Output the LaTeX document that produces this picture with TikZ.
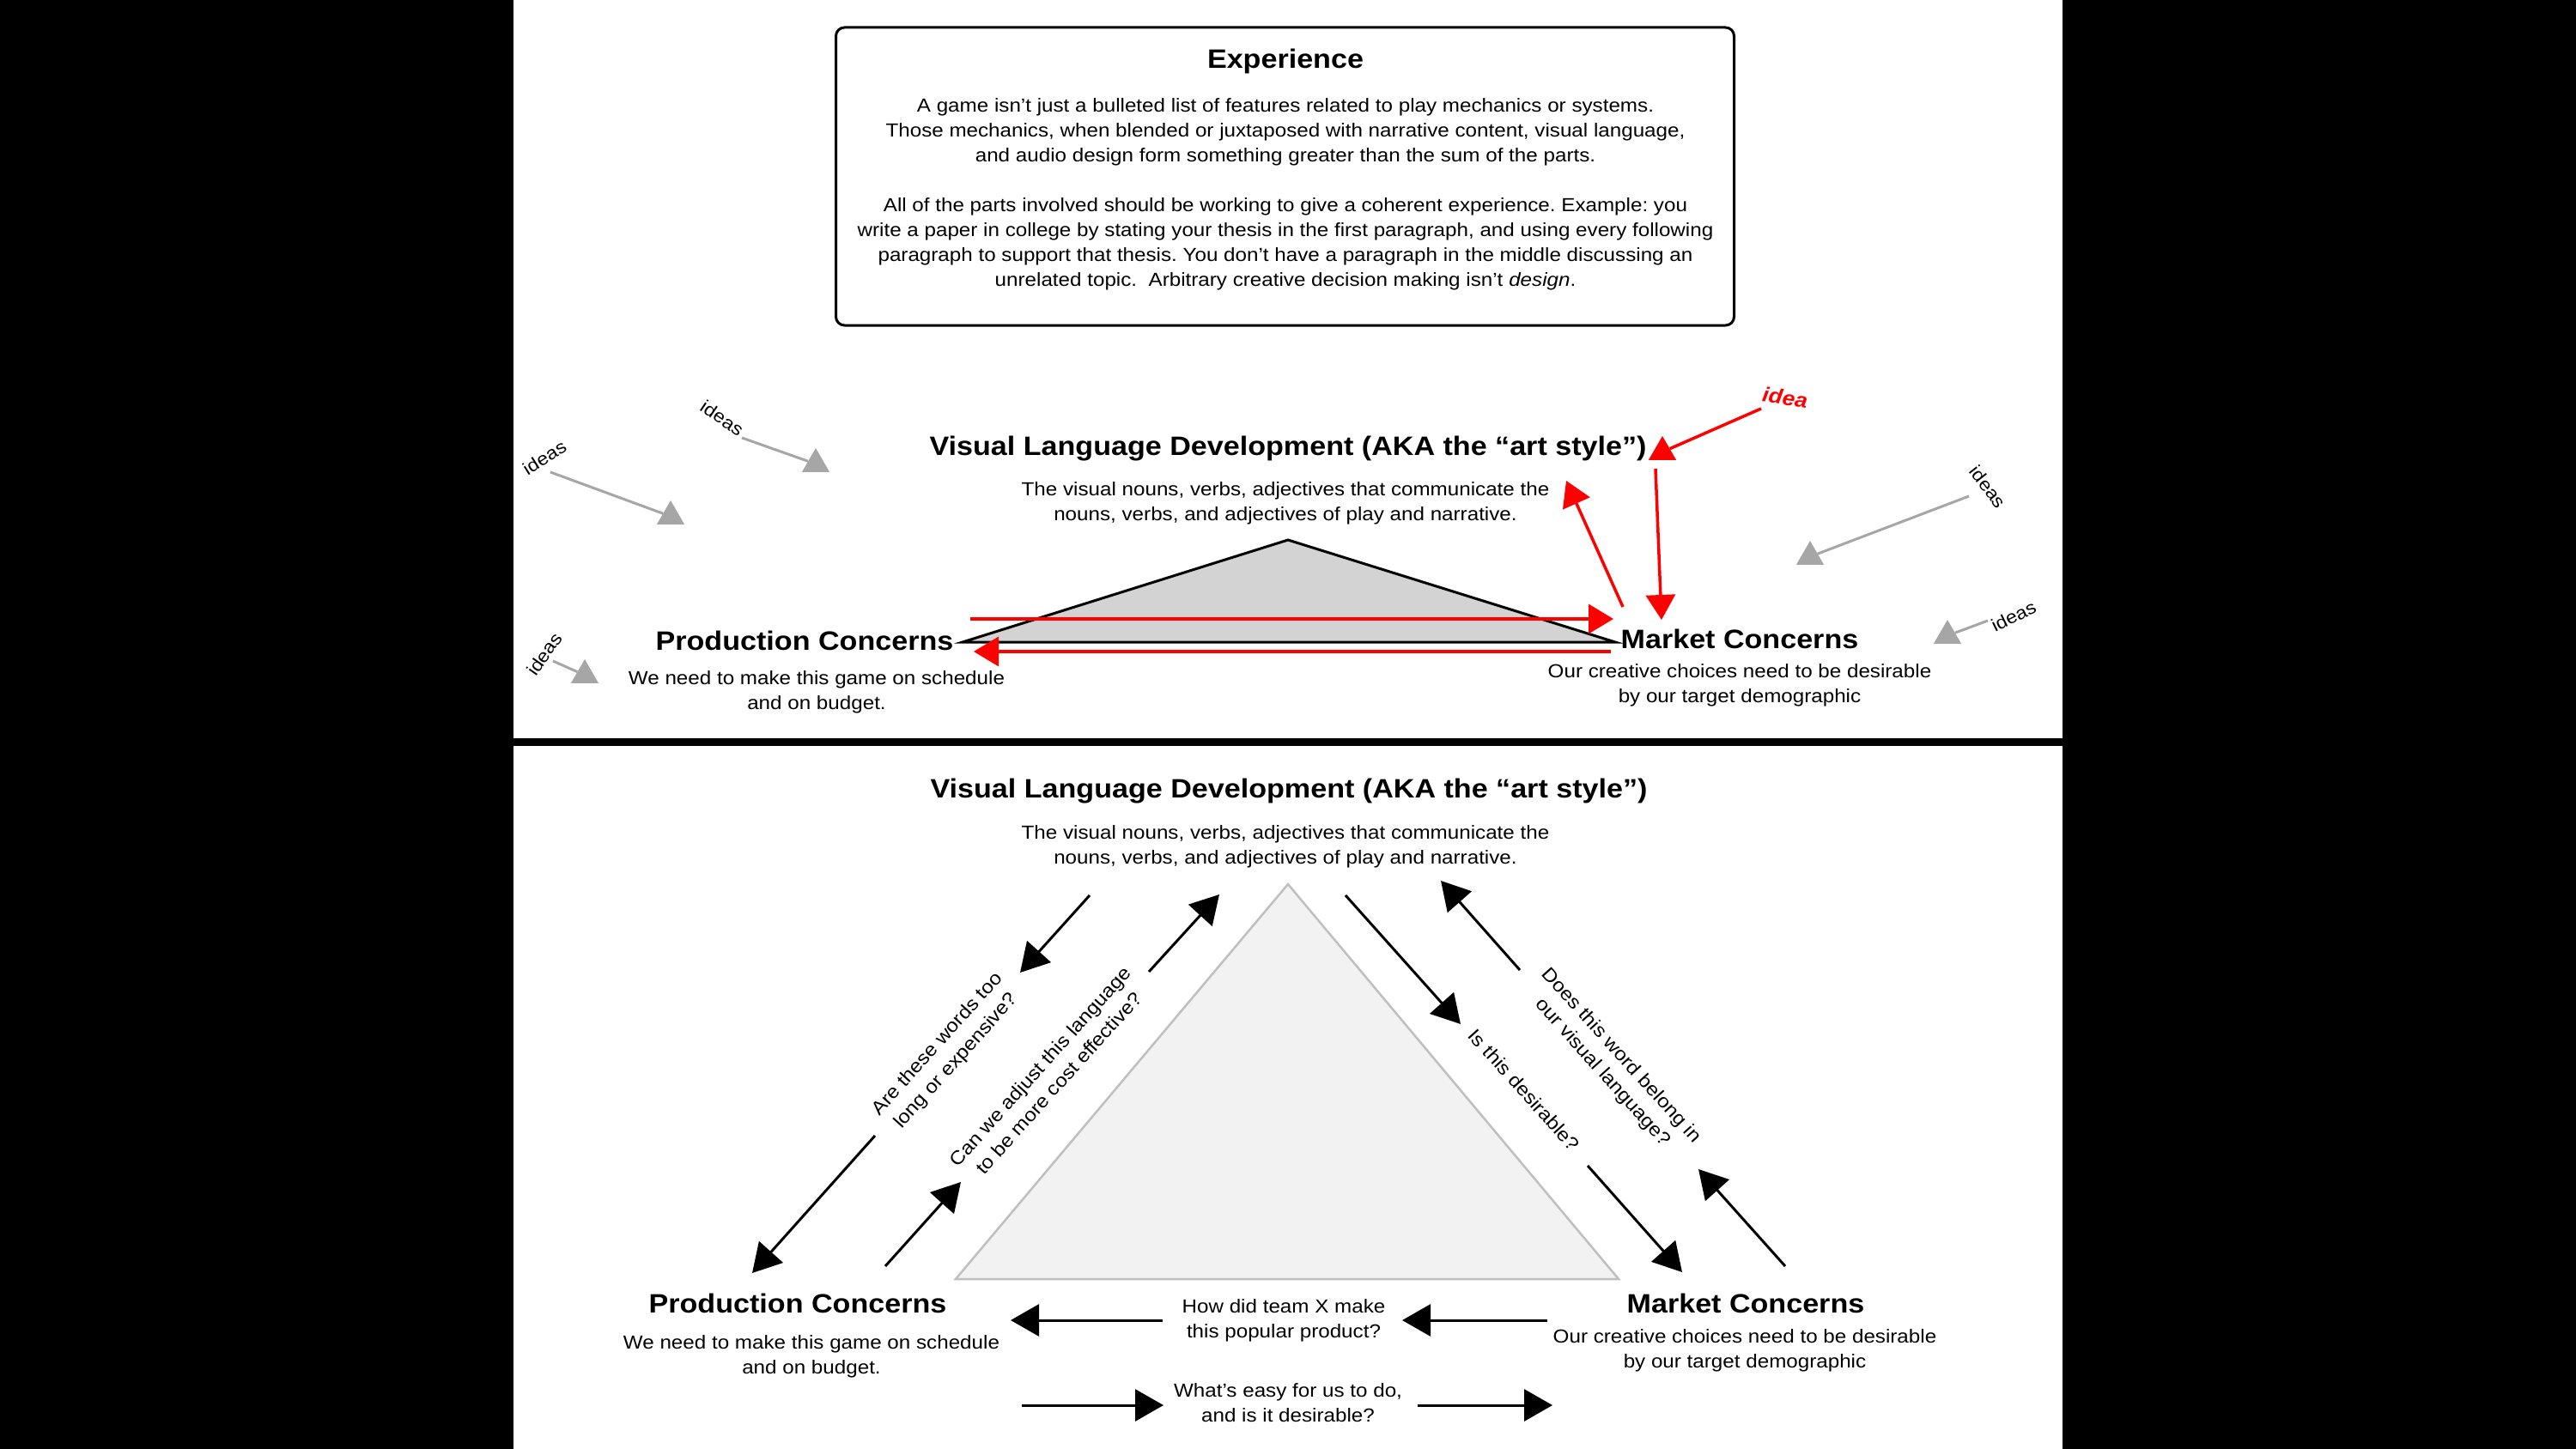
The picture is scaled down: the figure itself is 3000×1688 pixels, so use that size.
\documentclass[tikz,border=0pt]{standalone}
\usepackage{fontspec}
\setmainfont{Liberation Sans}[FakeStretch=1.1]
\usetikzlibrary{arrows.meta,shapes.geometric}
\definecolor{triA}{HTML}{D3D3D3}
\definecolor{triB}{HTML}{F2F2F2}
\definecolor{triBline}{HTML}{BFBFBF}
\definecolor{ideagray}{HTML}{A6A6A6}
\newcommand{\hdfont}{\fontsize{31}{36}\selectfont\bfseries}
\newcommand{\bodyfont}{\fontsize{22}{29}\selectfont}
\newcommand{\ideasfont}{\fontsize{21}{24}\selectfont}
\frenchspacing
\begin{document}
\begin{tikzpicture}[x=1pt,y=-1pt,
  hd/.style={font=\hdfont, inner sep=0pt},
  txt/.style={font=\bodyfont, align=center, inner sep=0pt},
  arr/.style={line width=3pt, -{Triangle[length=33pt,width=37pt]}},
  redarr/.style={red, line width=3.5pt, -{Triangle[length=29pt,width=34pt]}},
  gline/.style={ideagray, line width=3pt},
  gtri/.style={regular polygon, regular polygon sides=3, fill=ideagray, minimum size=37pt, inner sep=0pt},
  ilbl/.style={font=\ideasfont, inner sep=0pt}]

% background and panels
\fill[black] (0,0) rectangle (3000,1688);
\useasboundingbox (0,0) rectangle (3000,1688);
\fill[white] (598,0) rectangle (2402,860);
\fill[white] (598,869) rectangle (2402,1688);

% Experience box
\node[draw, line width=3pt, rounded corners=10pt, minimum width=1046pt, minimum height=347pt, inner sep=0pt] (expbox) at (1496.5,205.5) {};
\node[hd] (exptitle) at (1497,71) {Experience};
\node[txt] (expbody) at (1497,226) {A game isn’t just a bulleted list of features related to play mechanics or systems.\\
Those mechanics, when blended or juxtaposed with narrative content, visual language,\\
and audio design form something greater than the sum of the parts.\\[29pt]
All of the parts involved should be working to give a coherent experience. Example: you\\
write a paper in college by stating your thesis in the first paragraph, and using every following\\
paragraph to support that thesis. You don’t have a paragraph in the middle discussing an\\
unrelated topic.\ \ Arbitrary creative decision making isn’t \textit{design}.};

% ---------- top panel ----------
\node[hd] (vlA) at (1500,523) {Visual Language Development (AKA the “art style”)};
\node[txt] (vlAd) at (1497,586) {The visual nouns, verbs, adjectives that communicate the\\nouns, verbs, and adjectives of play and narrative.};
\node[hd] (pcA) at (937,746) {Production Concerns};
\node[txt] (pcAd) at (951,806) {We need to make this game on schedule\\and on budget.};
\node[hd] (mcA) at (2026,744) {Market Concerns};
\node[txt] (mcAd) at (2026,798) {Our creative choices need to be desirable\\by our target demographic};

\coordinate (tAa) at (1500,629);
\coordinate (tAl) at (1121,748);
\coordinate (tAr) at (1881,748);
\draw[fill=triA, line width=3pt] (tAa) -- (tAl) -- (tAr) -- cycle;

% red arrows
\coordinate (r1s) at (1130,721); \coordinate (r1e) at (1879,721);
\coordinate (r2s) at (1876,759); \coordinate (r2e) at (1134,759);
\coordinate (r3s) at (1890,707); \coordinate (r3e) at (1824,560);
\coordinate (r4s) at (1928,546); \coordinate (r4e) at (1935,722);
\draw[redarr] (r1s) -- (r1e);
\draw[redarr] (r2s) -- (r2e);
\draw[redarr] (r3s) -- (r3e);
\draw[redarr] (r4s) -- (r4e);
\node[font=\fontsize{24}{28}\selectfont\bfseries\itshape, text=red, rotate=-8, inner sep=0pt] (idea) at (2079,463) {idea};
\coordinate (r5s) at (2051,476);
\node[gtri, fill=red] (r5t) at (1936,526.5) {};
\draw[red, line width=3.5pt] (r5s) -- (r5t);

% gray idea arrows
\node[ilbl, rotate=32] (i1) at (634,533) {ideas};
\coordinate (i1s) at (641,550);
\node[gtri] (i1t) at (781,601.5) {};
\draw[gline] (i1s) -- (i1t);

\node[ilbl, rotate=-34] (i2) at (841,487) {ideas};
\coordinate (i2s) at (864,510);
\node[gtri] (i2t) at (950,540.5) {};
\draw[gline] (i2s) -- (i2t);

\node[ilbl, rotate=55] (i3) at (634,762) {ideas};
\coordinate (i3s) at (644,770);
\node[gtri] (i3t) at (681,786.5) {};
\draw[gline] (i3s) -- (i3t);

\node[ilbl, rotate=-52] (i4) at (2315,567) {ideas};
\coordinate (i4s) at (2293,578);
\node[gtri] (i4t) at (2108,648.5) {};
\draw[gline] (i4s) -- (i4t);

\node[ilbl, rotate=26] (i5) at (2345,718) {ideas};
\coordinate (i5s) at (2315,723);
\node[gtri] (i5t) at (2268,740.5) {};
\draw[gline] (i5s) -- (i5t);

% ---------- bottom panel ----------
\node[hd] (vlB) at (1501,922) {Visual Language Development (AKA the “art style”)};
\node[txt] (vlBd) at (1497,986) {The visual nouns, verbs, adjectives that communicate the\\nouns, verbs, and adjectives of play and narrative.};
\node[hd] (pcB) at (929,1518) {Production Concerns};
\node[txt] (pcBd) at (945,1580) {We need to make this game on schedule\\and on budget.};
\node[hd] (mcB) at (2033,1518) {Market Concerns};
\node[txt] (mcBd) at (2032,1573) {Our creative choices need to be desirable\\by our target demographic};

\coordinate (tBa) at (1500,1030);
\coordinate (tBl) at (1113,1490);
\coordinate (tBr) at (1885,1490);
\draw[fill=triB, draw=triBline, line width=2.5pt] (tBa) -- (tBl) -- (tBr) -- cycle;

% left side questions
\node[txt, rotate=48] (qA) at (1103,1226) {Are these words too\\long or expensive?};
\coordinate (a1s) at (1269,1043); \coordinate (a1m) at (1188,1133);
\coordinate (a1n) at (1019,1323); \coordinate (a1e) at (876,1483);
\draw[arr] (a1s) -- (a1m);
\draw[arr] (a1n) -- (a1e);

\node[txt, rotate=48] (qB) at (1222,1252) {Can we adjust this language\\to be more cost effective?};
\coordinate (a2s) at (1031,1475); \coordinate (a2m) at (1119,1377);
\coordinate (a2n) at (1338,1132); \coordinate (a2e) at (1420,1042);
\draw[arr] (a2s) -- (a2m);
\draw[arr] (a2n) -- (a2e);

% right side questions
\node[txt, rotate=-48] (qC) at (1775,1270) {Is this desirable?};
\coordinate (b1s) at (1567,1043); \coordinate (b1m) at (1701,1193);
\coordinate (b1n) at (1849,1358); \coordinate (b1e) at (1959,1482);
\draw[arr] (b1s) -- (b1m);
\draw[arr] (b1n) -- (b1e);

\node[txt, rotate=-48] (qD) at (1877,1240) {Does this word belong in\\our visual language?};
\coordinate (b2s) at (2079,1475); \coordinate (b2m) at (1978,1362);
\coordinate (b2n) at (1770,1130); \coordinate (b2e) at (1678,1026);
\draw[arr] (b2s) -- (b2m);
\draw[arr] (b2n) -- (b2e);

% bottom questions
\node[txt] (qE) at (1495,1538) {How did team X make\\this popular product?};
\coordinate (h1s) at (1802,1538); \coordinate (h1e) at (1633,1538);
\coordinate (h2s) at (1354,1538); \coordinate (h2e) at (1177,1538);
\draw[arr] (h1s) -- (h1e);
\draw[arr] (h2s) -- (h2e);

\node[txt] (qF) at (1500,1634) {What’s easy for us to do,\\and is it desirable?};
\coordinate (h3s) at (1190,1637); \coordinate (h3e) at (1355,1637);
\coordinate (h4s) at (1651,1637); \coordinate (h4e) at (1808,1637);
\draw[arr] (h3s) -- (h3e);
\draw[arr] (h4s) -- (h4e);
\end{tikzpicture}
\end{document}
